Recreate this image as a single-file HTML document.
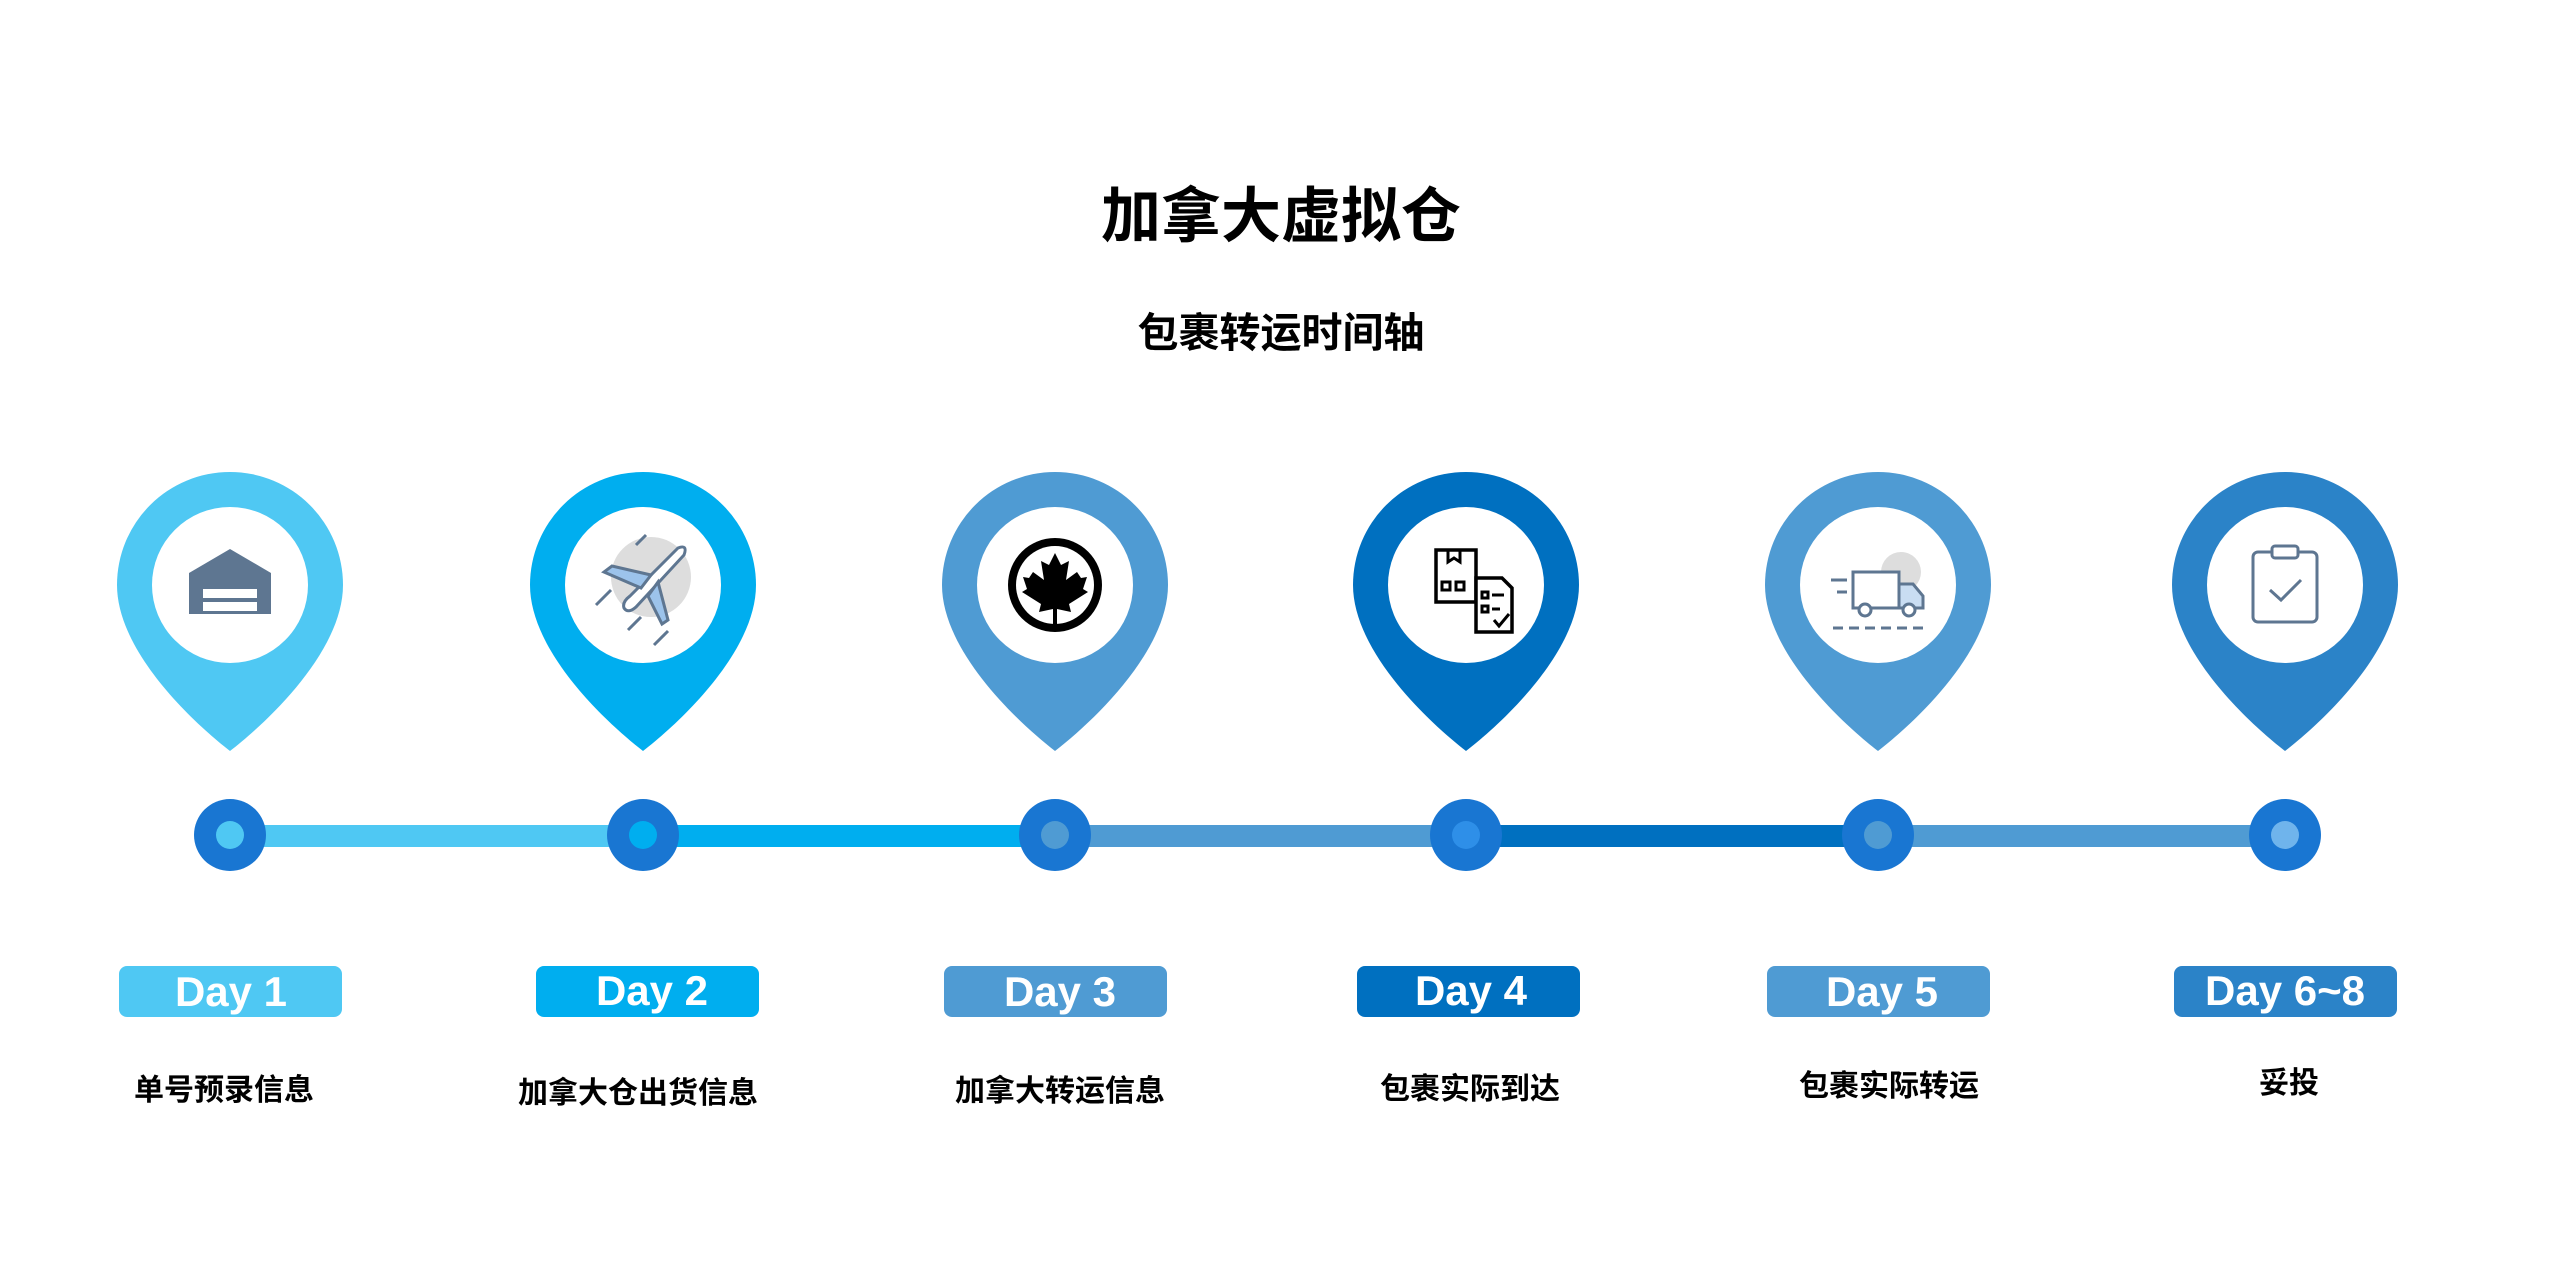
<!DOCTYPE html>
<html><head><meta charset="utf-8"><style>
html,body{margin:0;padding:0;background:#fff;}
body{width:2560px;height:1272px;overflow:hidden;position:relative;font-family:"Liberation Sans","Noto Sans CJK SC",sans-serif;}
svg{position:absolute;left:0;top:0;}
</style></head><body>
<svg width="2560" height="1272" viewBox="0 0 2560 1272" xmlns="http://www.w3.org/2000/svg" font-family="Liberation Sans, Noto Sans CJK SC, sans-serif">
<defs>
<path id="pin" d="M-113 585 A113 113 0 0 1 113 585 C113 650 40 720 0 751 C-40 720 -113 650 -113 585Z"/>
</defs>
<text x="1281" y="237" font-size="60" font-weight="bold" text-anchor="middle" fill="#000">加拿大虚拟仓</text>
<text x="1281" y="347" font-size="41" font-weight="bold" text-anchor="middle" fill="#000">包裹转运时间轴</text>

<rect x="230" y="825" width="413" height="22" fill="#4FC8F3"/>
<rect x="643" y="825" width="412" height="22" fill="#00AEEF"/>
<rect x="1055" y="825" width="411" height="22" fill="#4F9BD3"/>
<rect x="1466" y="825" width="412" height="22" fill="#0070C0"/>
<rect x="1878" y="825" width="407" height="22" fill="#4F9BD3"/>

<use href="#pin" x="230" fill="#4FC8F3"/>
<use href="#pin" x="643" fill="#00AEEF"/>
<use href="#pin" x="1055" fill="#4F9BD3"/>
<use href="#pin" x="1466" fill="#0070C0"/>
<use href="#pin" x="1878" fill="#4F9BD3"/>
<use href="#pin" x="2285" fill="#2B83C8"/>
<g fill="#fff">
<circle cx="230" cy="585" r="78"/><circle cx="643" cy="585" r="78"/><circle cx="1055" cy="585" r="78"/>
<circle cx="1466" cy="585" r="78"/><circle cx="1878" cy="585" r="78"/><circle cx="2285" cy="585" r="78"/>
</g>

<g transform="translate(-1,0)">
<path d="M190 573 L231 549 L272 573 L272 614 L190 614Z" fill="#5E7691"/>
<rect x="204" y="589" width="54" height="9" fill="#fff"/>
<rect x="204" y="602" width="54" height="9" fill="#fff"/>
</g>

<g transform="translate(-4,0)">
<circle cx="655" cy="577" r="40" fill="#ddd"/>
<g stroke="#5E7691" stroke-width="3" fill="none">
<path d="M682 548 Q692 544 688 555 L640 607 Q632 614 628 608 Q626 602 634 596 Z" fill="#fff"/>
<path d="M655 575 L616 566 L608 572 L645 588Z" fill="#9CC3EB"/>
<path d="M662 582 L672 620 L666 624 L652 596Z" fill="#9CC3EB"/>
<line x1="600" y1="605" x2="615" y2="590"/><line x1="632" y1="630" x2="645" y2="617"/><line x1="658" y1="645" x2="672" y2="631"/>
<line x1="640" y1="545" x2="650" y2="535"/>
</g>
</g>

<g transform="translate(-5,0)">
<circle cx="1060" cy="585" r="47" fill="#000"/>
<circle cx="1060" cy="585" r="39" fill="#fff"/>
<path d="M1060 553 L1066 565 L1074 561 L1071 580 L1082 572 L1086 578 L1092 577 L1088 589 L1093 592 L1074 604 L1076 612 L1062 609 L1062 624 L1058 624 L1058 609 L1044 612 L1046 604 L1027 592 L1032 589 L1028 577 L1034 578 L1038 572 L1049 580 L1046 561 L1054 565Z" fill="#000"/>
</g>

<g transform="translate(-8,0)">
<g stroke="#000" stroke-width="3.5" fill="#fff">
<rect x="1444" y="550" width="40" height="52"/>
<path d="M1484 578 L1510 578 L1520 588 L1520 632 L1484 632Z"/>
</g>
<g stroke="#000" stroke-width="3" fill="none">
<path d="M1456 550 L1456 562 L1462 558 L1468 562 L1468 550"/>
<rect x="1450" y="582" width="8" height="8"/><rect x="1464" y="582" width="8" height="8"/>
<rect x="1490" y="592" width="6" height="6"/><line x1="1500" y1="595" x2="1512" y2="595"/>
<rect x="1490" y="606" width="6" height="6"/><line x1="1500" y1="609" x2="1508" y2="609"/>
<path d="M1502 620 L1507 626 L1517 614"/>
</g>
</g>

<g transform="translate(-9,0)">
<circle cx="1910" cy="572" r="20" fill="#ddd"/>
<g stroke="#5E7691" stroke-width="3" fill="#fff">
<rect x="1862" y="572" width="46" height="36"/>
<path d="M1908 584 L1922 584 L1932 596 L1932 608 L1908 608Z" fill="#C9DDF2"/>
<circle cx="1874" cy="610" r="6"/><circle cx="1918" cy="610" r="6"/>
</g>
<g stroke="#5E7691" stroke-width="3">
<line x1="1840" y1="580" x2="1856" y2="580"/><line x1="1846" y1="592" x2="1856" y2="592"/>
<line x1="1842" y1="628" x2="1932" y2="628" stroke-dasharray="10 6"/>
</g>
</g>

<g transform="translate(-11,0)">
<g stroke="#5E7691" stroke-width="3" fill="none">
<rect x="2264" y="552" width="64" height="70" rx="5"/>
<rect x="2283" y="546" width="26" height="12" rx="3" fill="#fff"/>
<path d="M2281 590 L2292 600 L2312 580"/>
</g>
</g>

<g fill="#1976D2">
<circle cx="230" cy="835" r="36"/><circle cx="643" cy="835" r="36"/><circle cx="1055" cy="835" r="36"/>
<circle cx="1466" cy="835" r="36"/><circle cx="1878" cy="835" r="36"/><circle cx="2285" cy="835" r="36"/>
</g>
<circle cx="230" cy="835" r="14" fill="#4FC8F3"/>
<circle cx="643" cy="835" r="14" fill="#00AEEF"/>
<circle cx="1055" cy="835" r="14" fill="#4F9BD3"/>
<circle cx="1466" cy="835" r="14" fill="#2E8FE8"/>
<circle cx="1878" cy="835" r="14" fill="#4F9BD3"/>
<circle cx="2285" cy="835" r="14" fill="#6FB4EC"/>

<rect x="119" y="966" width="223" height="51" rx="8" fill="#4FC8F3"/>
<rect x="536" y="966" width="223" height="51" rx="8" fill="#00AEEF"/>
<rect x="944" y="966" width="223" height="51" rx="8" fill="#4F9BD3"/>
<rect x="1357" y="966" width="223" height="51" rx="8" fill="#0070C0"/>
<rect x="1767" y="966" width="223" height="51" rx="8" fill="#4F9BD3"/>
<rect x="2174" y="966" width="223" height="51" rx="8" fill="#2B83C8"/>
<g fill="#fff" font-size="42" font-weight="bold" text-anchor="middle">
<text x="231" y="1006">Day 1</text><text x="652" y="1005">Day 2</text><text x="1060" y="1006">Day 3</text>
<text x="1471" y="1005">Day 4</text><text x="1882" y="1006">Day 5</text><text x="2285" y="1005">Day 6~8</text>
</g>
<g fill="#000" font-size="30" font-weight="bold" text-anchor="middle">
<text x="224" y="1100">单号预录信息</text><text x="638" y="1103">加拿大仓出货信息</text><text x="1060" y="1101">加拿大转运信息</text>
<text x="1470" y="1099">包裹实际到达</text><text x="1889" y="1096">包裹实际转运</text><text x="2289" y="1093">妥投</text>
</g>
</svg>
</body></html>
